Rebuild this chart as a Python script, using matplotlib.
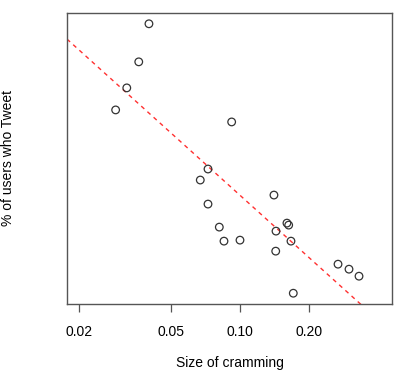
import numpy as np
import matplotlib
matplotlib.use("Agg")
import matplotlib.pyplot as plt

# --- Data ---
cram_size = [0.0402, 0.0363, 0.0322, 0.0288, 0.0920, 0.0726, 0.0672, 0.1405,
             0.0726, 0.0813, 0.0852, 0.1000, 0.1434, 0.1600, 0.1628, 0.1666,
             0.1430, 0.2668, 0.2978, 0.3292, 0.1705]
pct_tweet = [30.6, 26.8, 24.2, 22.0, 20.8, 16.1, 15.0, 13.5,
             12.6, 10.3, 8.9, 9.0, 9.9, 10.7, 10.5, 8.9,
             7.9, 6.6, 6.1, 5.4, 3.7]
x_ticks = [0.02, 0.05, 0.10, 0.20]
x_tick_labels = ["0.02", "0.05", "0.10", "0.20"]
# fitted line y = a + b*log10(x), as drawn in the reference
fit_intercept = -7.25
fit_slope = -20.73

plt.rcParams['font.family'] = ['Liberation Sans', 'DejaVu Sans']
box_col = '#555555'

fig = plt.figure(figsize=(4.09, 3.80), dpi=100)
ax = fig.add_axes([67 / 409, 76 / 380, 325 / 409, 291 / 380])

ax.scatter(cram_size, pct_tweet, s=30, facecolors='none', edgecolors='#333333',
           linewidths=0.9, zorder=3)

ax.set_xscale('log')
ax.set_xlim(0.0177, 0.458)
y_lo, y_hi = min(pct_tweet), max(pct_tweet)
pad = 0.04 * (y_hi - y_lo)
ax.set_ylim(y_lo - pad, y_hi + pad)

xs = np.array(ax.get_xlim())
ax.plot(xs, fit_intercept + fit_slope * np.log10(xs), color='#ff3030',
        linestyle=(0, (3, 3)), linewidth=1.0, zorder=2)

ax.set_xticks(x_ticks)
ax.set_xticklabels(x_tick_labels)
ax.xaxis.set_minor_locator(matplotlib.ticker.NullLocator())
ax.set_yticks([])
ax.tick_params(axis='x', direction='out', length=6, width=0.9, color=box_col,
               labelsize=10, pad=9)
for sp in ax.spines.values():
    sp.set_color(box_col)
    sp.set_linewidth(1.0)

ax.set_xlabel("Size of cramming", fontsize=10, va='center')
ax.xaxis.set_label_coords(0.5, -0.203)
ax.set_ylabel("% of users who Tweet", fontsize=10, va='center')
ax.yaxis.set_label_coords(-0.18, 0.5)

fig.savefig("out.png", dpi=100)
